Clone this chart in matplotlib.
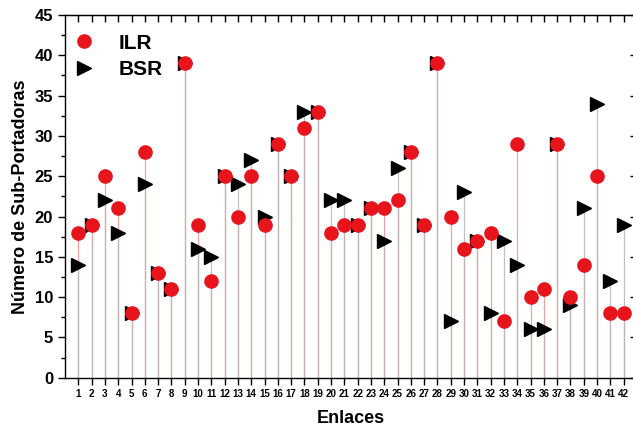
import numpy as np
import matplotlib
matplotlib.use("Agg")
import matplotlib.pyplot as plt
from matplotlib.ticker import MultipleLocator

plt.rcParams['font.family'] = ['Liberation Sans', 'DejaVu Sans']
plt.rcParams['font.weight'] = 'bold'

# Data
enlaces = np.arange(1, 43)
ilr = [18, 19, 25, 21, 8, 28, 13, 11, 39, 19, 12, 25, 20, 25, 19, 29, 25, 31, 33, 18, 19,
       19, 21, 21, 22, 28, 19, 39, 20, 16, 17, 18, 7, 29, 10, 11, 29, 10, 14, 25, 8, 8]
bsr = [14, 19, 22, 18, 8, 24, 13, 11, 39, 16, 15, 25, 24, 27, 20, 29, 25, 33, 33, 22, 22,
       19, 21, 17, 26, 28, 19, 39, 7, 23, 17, 8, 17, 14, 6, 6, 29, 9, 21, 34, 12, 19]

fig = plt.figure(figsize=(6.33, 4.28), dpi=100)
ax = fig.add_axes([0.1027, 0.1175, 0.9036, 0.8474])

# stems
ax.vlines(enlaces, 0, ilr, color='#f4a0a0', lw=0.9, zorder=1)
ax.vlines(enlaces, 0, bsr, color='#b8b8b8', lw=0.9, alpha=0.85, zorder=1)

ax.plot(enlaces, ilr, 'o', color='#e8141c', ms=9.5, mec='#e8141c', ls='none', label='ILR', zorder=3)
ax.plot(enlaces, bsr, '>', color='black', ms=10, ls='none', label='BSR', zorder=2)

ax.set_xlim(0, 43)
ax.set_ylim(0, 45)
ax.set_xticks(enlaces)
ax.set_xticklabels([str(i) for i in enlaces], fontsize=7)
ax.yaxis.set_major_locator(MultipleLocator(5))
ax.yaxis.set_minor_locator(MultipleLocator(2.5))
ax.tick_params(axis='y', labelsize=12, direction='out', length=5, width=1)
ax.tick_params(axis='y', which='minor', direction='out', length=3, width=1)
ax.tick_params(axis='x', direction='out', length=5, width=1, pad=3)

# inward ticks on top and right
top = ax.secondary_xaxis('top')
top.set_xticks(enlaces, labels=[])
top.tick_params(direction='in', length=5, width=1)
right = ax.secondary_yaxis('right')
right.set_yticks(np.arange(0, 46, 5), labels=[])
right.tick_params(direction='in', length=5, width=1)
for sp in ax.spines.values():
    sp.set_linewidth(1)

ax.set_xlabel('Enlaces', fontsize=13, fontweight='bold', labelpad=8)
ax.set_ylabel('Número de Sub-Portadoras', fontsize=13, fontweight='bold', labelpad=4)

leg = ax.legend(loc='upper left', bbox_to_anchor=(0, 0.983), frameon=False, fontsize=15,
                handletextpad=1.35, handlelength=0.6, labelspacing=0.35, borderaxespad=0.2)
for t in leg.get_texts():
    t.set_fontweight('bold')

fig.savefig('out.png', dpi=100)
